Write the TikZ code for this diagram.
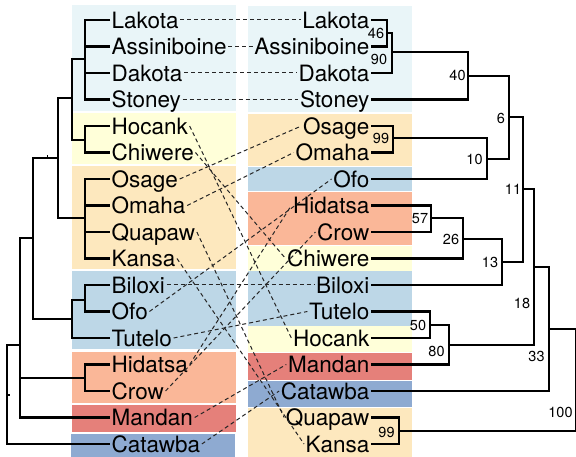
\documentclass[tikz,border=0pt]{standalone}
\usepackage{fontspec}
\setmainfont{TeX Gyre Heros}
\definecolor{bandSioux}{RGB}{233,245,248}
\definecolor{bandWinnebago}{RGB}{255,255,217}
\definecolor{bandDhegiha}{RGB}{253,232,190}
\definecolor{bandOhio}{RGB}{189,215,231}
\definecolor{bandCrow}{RGB}{250,183,152}
\definecolor{bandMandan}{RGB}{229,128,122}
\definecolor{bandCatawba}{RGB}{142,170,209}
\begin{document}
\begin{tikzpicture}[x=1pt,y=-1pt,
  leaf/.style={font=\fontsize{22.5}{24}\selectfont, inner xsep=1.5pt, inner ysep=0pt,
               text height=16.2pt, text depth=0pt},
  lleaf/.style={leaf, anchor=west},
  rleaf/.style={leaf, anchor=east},
  branch/.style={line width=2.5pt, line join=miter},
  rootbranch/.style={line width=1.5pt, line join=miter},
  link/.style={dash pattern=on 4pt off 3pt, line width=1pt, black!85},
  support/.style={font=\fontsize{14.5}{14.5}\selectfont, inner sep=0pt}
]
\useasboundingbox (0,0) rectangle (576,457);

% ---- coloured bands, left column ----
\fill[bandSioux]     (72,5)   rectangle (236,111);
\fill[bandWinnebago] (72,113) rectangle (236,164);
\fill[bandDhegiha]   (72,166) rectangle (236,269);
\fill[bandOhio]      (72,271) rectangle (236,349);
\fill[bandCrow]      (72,352) rectangle (236,403);
\fill[bandMandan]    (72,405) rectangle (236,432);
\fill[bandCatawba]   (71,434) rectangle (235,457);

% ---- coloured bands, right column ----
\fill[bandSioux]     (248,6)   rectangle (412,112);
\fill[bandDhegiha]   (248,114) rectangle (412,166);
\fill[bandOhio]      (248,167) rectangle (412,191);
\fill[bandCrow]      (248,192) rectangle (412,245);
\fill[bandWinnebago] (248,246) rectangle (412,271);
\fill[bandOhio]      (248,271) rectangle (412,326);
\fill[bandWinnebago] (248,326) rectangle (412,352);
\fill[bandMandan]    (248,353) rectangle (412,380);
\fill[bandCatawba]   (248,381) rectangle (412,407);
\fill[bandDhegiha]   (248,408) rectangle (412,457);

% ---- leaf labels ----
\foreach \n [count=\i from 0] in {Lakota,Assiniboine,Dakota,Stoney,Hocank,Chiwere,
    Osage,Omaha,Quapaw,Kansa,Biloxi,Ofo,Tutelo,Hidatsa,Crow,Mandan,Catawba}
  \node[lleaf] (L\n) at (110,{20+26.5*\i}) {\n};
\foreach \n [count=\i from 0] in {Lakota,Assiniboine,Dakota,Stoney,Osage,Omaha,
    Ofo,Hidatsa,Crow,Chiwere,Biloxi,Tutelo,Hocank,Mandan,Catawba,Quapaw,Kansa}
  \node[rleaf] (R\n) at (371,{20+26.5*\i}) {\n};

% ---- dashed links between the two trees ----
\foreach \n in {Lakota,Assiniboine,Dakota,Stoney,Hocank,Chiwere,Osage,Omaha,
    Quapaw,Kansa,Biloxi,Ofo,Tutelo,Hidatsa,Crow,Mandan,Catawba}
  \draw[link] (L\n.east) -- (R\n.west);

% ---- left tree ----
\coordinate (a1)  at (85,59);
\coordinate (a2)  at (85,140);
\coordinate (a3)  at (72,98);
\coordinate (a4)  at (85,218);
\coordinate (a5)  at (58,158);
\coordinate (a6)  at (85,300);
\coordinate (a7)  at (72,319);
\coordinate (a8)  at (33,238);
\coordinate (a9)  at (85,378);
\coordinate (a10) at (20,345);
\coordinate (a11) at (7,395);

\draw[branch] (LLakota.west) -| (a1) |- (LStoney.west);
\draw[branch] (a1 |- LAssiniboine.west) -- (LAssiniboine.west);
\draw[branch] (a1 |- LDakota.west) -- (LDakota.west);
\draw[branch] (LHocank.west) -| (a2) |- (LChiwere.west);
\draw[branch] (a1) -| (a3) |- (a2);
\draw[branch] (LOsage.west) -| (a4) |- (LKansa.west);
\draw[branch] (a4 |- LOmaha.west) -- (LOmaha.west);
\draw[branch] (a4 |- LQuapaw.west) -- (LQuapaw.west);
\draw[branch] (a3) -| (a5) |- (a4);
\draw[branch] (LBiloxi.west) -| (a6) |- (LOfo.west);
\draw[branch] (a6) -| (a7) |- (LTutelo.west);
\draw[branch] (a5) -| (a8) |- (a7);
\draw[branch] (LHidatsa.west) -| (a9) |- (LCrow.west);
\draw[branch] (a8) -| (a10) |- (LMandan.west);
\draw[branch] (a10 |- a9) -- (a9);
\draw[branch] (a10) -| (a11) |- (LCatawba.west);
% small node ticks
\draw[line width=1pt] (47,158) -- (47,155.5);
\draw[line width=1.2pt] (8,395) -- (9.5,395);

% ---- right tree ----
\coordinate (n46)  at (387,33);
\coordinate (n90)  at (392,52);
\coordinate (n40)  at (468,76);
\coordinate (n99a) at (393,138);
\coordinate (n10)  at (487,159);
\coordinate (n6)   at (509,117);
\coordinate (n57)  at (431,218);
\coordinate (n26)  at (463,239);
\coordinate (n13)  at (502,262);
\coordinate (n11)  at (523,189);
\coordinate (n50)  at (430,325);
\coordinate (n80)  at (449,345);
\coordinate (n18)  at (534,267);
\coordinate (n33)  at (549,329);
\coordinate (n99b) at (399,431);
\coordinate (n100) at (576,380);

\draw[branch] (RLakota.east) -| (n46) |- (RAssiniboine.east);
\draw[branch] (n46) -| (n90) |- (RDakota.east);
\draw[branch] (n90) -| (n40) |- (RStoney.east);
\draw[branch] (ROsage.east) -| (n99a) |- (ROmaha.east);
\draw[branch] (n99a) -| (n10) |- (ROfo.east);
\draw[branch] (n40) -| (n6) |- (n10);
\draw[branch] (RHidatsa.east) -| (n57) |- (RCrow.east);
\draw[branch] (n57) -| (n26) |- (RChiwere.east);
\draw[branch] (n26) -| (n13) |- (RBiloxi.east);
\draw[branch] (n6) -| (n11) |- (n13);
\draw[branch] (RTutelo.east) -| (n50) |- (RHocank.east);
\draw[branch] (n50) -| (n80) |- (RMandan.east);
\draw[branch] (n11) -| (n18) |- (n80);
\draw[branch] (n18) -| (n33) |- (RCatawba.east);
\draw[branch] (RQuapaw.east) -| (n99b) |- (RKansa.east);
\draw[rootbranch] (n33) -| (n100) |- (n99b);

% ---- support values ----
\node[support] (s46)  at (376,33)    {46};
\node[support] (s90)  at (379,59)    {90};
\node[support] (s40)  at (457.5,75.5) {40};
\node[support] (s99a) at (381,138.5) {99};
\node[support] (s6)   at (501,118)   {6};
\node[support] (s10)  at (474.5,159.5) {10};
\node[support] (s11)  at (513,189.5) {11};
\node[support] (s57)  at (420,218.5) {57};
\node[support] (s26)  at (451,239)   {26};
\node[support] (s13)  at (490,262)   {13};
\node[support] (s18)  at (522,303.5) {18};
\node[support] (s50)  at (418,325)   {50};
\node[support] (s80)  at (436.5,351) {80};
\node[support] (s33)  at (536.5,356) {33};
\node[support] (s100) at (560.5,412.5) {100};
\node[support] (s99b) at (386.5,432) {99};
\end{tikzpicture}
\end{document}
